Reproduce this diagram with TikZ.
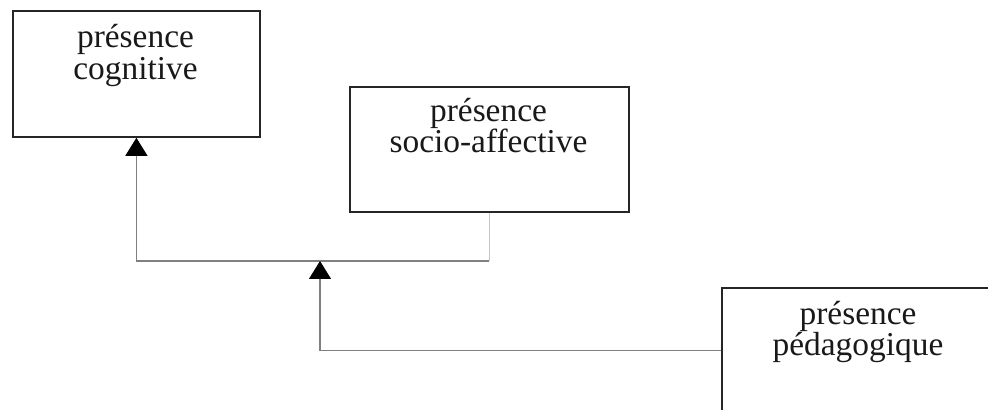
\documentclass[tikz,border=0pt]{standalone}
\usepackage{fontspec}
\setmainfont{Liberation Serif}
\usetikzlibrary{arrows.meta}
\begin{document}
\begin{tikzpicture}[x=0.5pt,y=-0.5pt,
  box/.style={draw=black!85, line width=0.9pt, fill=white, inner sep=0pt, anchor=north west},
  lbl/.style={font=\fontsize{16.7pt}{16pt}\selectfont, inner sep=0pt, anchor=base, text=black!90},
  conn/.style={draw=black!50, line width=0.6pt},
  connlight/.style={draw=black!22, line width=0.6pt},
  tip/.style={-{Triangle[width=11pt,length=9pt,color=black,fill=black]}}]
\useasboundingbox (0,0) rectangle (988,410);
\clip (0,0) rectangle (988,410);
\fill[white] (0,0) rectangle (988,410);
% boxes
\node[box, minimum width=123.5pt, minimum height=63pt] (cog) at (12,10) {};
\node[box, minimum width=139.5pt, minimum height=62.5pt] (soc) at (349,86) {};
\node[box, minimum width=137pt, minimum height=63pt] (ped) at (721,287) {};
% labels
\node[lbl] (cog1) at (135.5,48) {présence};
\node[lbl] (cog2) at (135.5,80) {cognitive};
\node[lbl] (soc1) at (488.5,122) {présence};
\node[lbl] (soc2) at (488.5,153) {socio-affective};
\node[lbl] (ped1) at (858,325) {présence};
\node[lbl] (ped2) at (858,356) {pédagogique};
% junctions
\coordinate (j1) at (soc.south |- 0,261);
\coordinate (j2) at (320,261);
% connectors
\draw[connlight] (soc.south) -- (j1);
\draw[conn, tip] (j1) -| (cog.south);
\draw[conn, tip] (ped.west) -| (j2);
\end{tikzpicture}
\end{document}
